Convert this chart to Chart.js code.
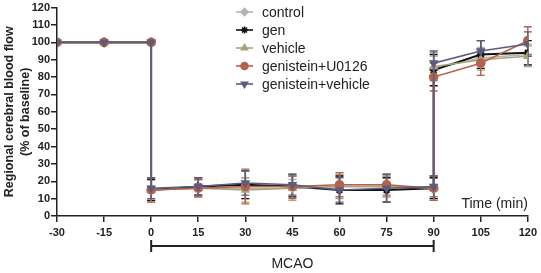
<!DOCTYPE html>
<html>
<head>
<meta charset="utf-8">
<script src="https://cdn.jsdelivr.net/npm/chart.js@4.4.0/dist/chart.umd.min.js"></script>
<style>
  html, body { margin: 0; padding: 0; background: #fff; }
</style>
</head>
<body>
<canvas id="cbfChart" width="541" height="273"></canvas>
<script>
/* ================================
   Data
================================ */
// 0 and 90 appear twice: the drop at MCAO onset and the rise at reperfusion
const times = [-30, -15, 0, 0, 15, 30, 45, 60, 75, 90, 90, 105, 120];

const controlVals   = [100, 100, 100, 15, 16, 16, 16, 17, 17, 16, 85, 91, 93];
const genVals       = [100, 100, 100, 15, 17, 18, 17, 15, 15, 16, 84, 93, 94];
const vehicleVals   = [100, 100, 100, 15, 16, 15, 16, 17, 17, 16, 86, 90, 92];
const genU0126Vals  = [100, 100, 100, 15, 16, 17, 17, 18, 18, 16, 80, 88, 101];
const genVehVals    = [100, 100, 100, 16, 17, 19, 18, 15, 16, 17, 88, 95, 99];

const controlErr    = [0, 0, 0, 6, 5, 6, 5, 6, 6, 6, 7, 6, 6];
const genErr        = [0, 0, 0, 6, 5, 8, 6, 8, 7, 6, 9, 8, 7];
const vehicleErr    = [0, 0, 0, 7, 5, 7, 7, 7, 6, 7, 8, 6, 6];
const genU0126Err   = [0, 0, 0, 7, 5, 10, 7, 7, 6, 7, 8, 7, 8];
const genVehErr     = [0, 0, 0, 6, 5, 7, 6, 7, 8, 6, 7, 6, 7];

const seriesNames = ["control", "gen", "vehicle", "genistein+U0126", "genistein+vehicle"];
const xTicks = [-30, -15, 0, 15, 30, 45, 60, 75, 90, 105, 120];
const yTicks = [0, 10, 20, 30, 40, 50, 60, 70, 80, 90, 100, 110, 120];
const mcaoSpan = [0, 90];

/* ================================
   Helpers
================================ */
const FONT = "'Liberation Sans', Arial, sans-serif";
const NARROW = "'Liberation Sans Narrow', 'Arial Narrow', 'Liberation Sans', sans-serif";
const INK = "#222";

function toPoints(vals) {
  return vals.map((v, i) => ({ x: times[i], y: v }));
}

function makeSet(i, vals, errs, color, style, extra = {}) {
  return {
    label: seriesNames[i],
    data: toPoints(vals),
    errors: errs,
    borderColor: color,
    backgroundColor: color,
    pointBackgroundColor: color,
    pointBorderColor: color,
    borderWidth: 1.6,
    pointStyle: style,
    pointRadius: 4,
    pointHoverRadius: 4,
    tension: 0,
    ...extra
  };
}

/* ================================
   Plugins
================================ */
// vertical error bars with caps, drawn through the scales
const errorBars = {
  id: "errorBars",
  beforeDatasetsDraw(chart) {
    const { ctx, scales: { x, y } } = chart;
    chart.data.datasets.forEach((ds) => {
      ctx.save();
      ctx.strokeStyle = ds.borderColor;
      ctx.lineWidth = 1.4;
      ds.data.forEach((p, j) => {
        const e = ds.errors[j];
        if (!e) return;
        const px = x.getPixelForValue(p.x);
        const top = y.getPixelForValue(p.y + e);
        const bot = y.getPixelForValue(p.y - e);
        ctx.beginPath();
        ctx.moveTo(px, top); ctx.lineTo(px, bot);
        ctx.moveTo(px - 4, top); ctx.lineTo(px + 4, top);
        ctx.moveTo(px - 4, bot); ctx.lineTo(px + 4, bot);
        ctx.stroke();
      });
      ctx.restore();
    });
  }
};

// MCAO bracket under the axis, plus "Time (min)" and the legend
const extras = {
  id: "extras",
  afterDraw(chart) {
    const { ctx, chartArea, scales: { x, y } } = chart;
    ctx.save();

    // bracket
    const x0 = x.getPixelForValue(mcaoSpan[0]);
    const x1 = x.getPixelForValue(mcaoSpan[1]);
    const by = chartArea.bottom + 30;
    ctx.strokeStyle = INK;
    ctx.lineWidth = 2;
    ctx.beginPath();
    ctx.moveTo(x0, by); ctx.lineTo(x1, by);
    ctx.moveTo(x0, by - 6); ctx.lineTo(x0, by + 6);
    ctx.moveTo(x1, by - 6); ctx.lineTo(x1, by + 6);
    ctx.stroke();

    // time label inside the plot
    ctx.fillStyle = INK;
    ctx.font = `14px ${FONT}`;
    ctx.textAlign = "right";
    ctx.textBaseline = "middle";
    ctx.fillText("Time (min)", chartArea.right, y.getPixelForValue(7));

    // legend
    ctx.textAlign = "left";
    chart.data.datasets.forEach((ds, i) => {
      const ly = 12 + i * 18;
      ctx.strokeStyle = ds.borderColor;
      ctx.lineWidth = 1.6;
      ctx.beginPath();
      ctx.moveTo(236, ly); ctx.lineTo(253, ly);
      ctx.stroke();
      ctx.fillStyle = ds.borderColor;
      Chart.helpers.drawPoint(ctx, {
        pointStyle: ds.pointStyle,
        radius: 3.5,
        rotation: ds.pointRotation || 0,
        borderWidth: ds.pointStyle === "star" ? 2 : 1
      }, 244.5, ly);
      ctx.fillStyle = INK;
      ctx.fillText(ds.label, 262, ly + 1);
    });
    ctx.restore();
  }
};

/* ================================
   Render Chart
================================ */
function renderChart() {
  const ctx = document.getElementById("cbfChart");

  const datasets = [
    makeSet(0, controlVals, controlErr, "#b3b3b3", "rectRot", { order: 4 }),
    makeSet(1, genVals, genErr, "#111111", "star", { order: 3, borderWidth: 2, pointBorderWidth: 2 }),
    makeSet(2, vehicleVals, vehicleErr, "#a9a27a", "triangle", { order: 2 }),
    makeSet(3, genU0126Vals, genU0126Err, "#b5624b", "circle", { order: 1 }),
    makeSet(4, genVehVals, genVehErr, "#5d5c7e", "triangle", { order: 0, pointRotation: 180 })
  ];

  new Chart(ctx, {
    type: "line",
    data: { datasets },
    options: {
      responsive: false,
      animation: false,
      layout: { padding: { top: 2, right: 12, left: 0, bottom: 0 } },
      plugins: {
        legend: { display: false },
        tooltip: { enabled: false }
      },
      scales: {
        x: {
          type: "linear",
          min: -30,
          max: 120,
          afterBuildTicks: (s) => { s.ticks = xTicks.map(v => ({ value: v })); },
          ticks: { color: INK, font: { family: FONT, size: 11, weight: "bold" }, padding: 4 },
          grid: { drawOnChartArea: false, drawTicks: true, tickLength: 6, color: INK, lineWidth: 1.5 },
          border: { color: INK, width: 1.5 },
          title: {
            display: true,
            text: "MCAO",
            color: INK,
            font: { family: FONT, size: 14 },
            padding: { top: 13, bottom: 0 }
          }
        },
        y: {
          min: 0,
          max: 120,
          afterBuildTicks: (s) => { s.ticks = yTicks.map(v => ({ value: v })); },
          afterFit: (s) => { s.width = 57; },
          ticks: { color: INK, font: { family: FONT, size: 11, weight: "bold" }, padding: 1 },
          grid: { drawOnChartArea: false, drawTicks: true, tickLength: 6, color: INK, lineWidth: 1.5 },
          border: { color: INK, width: 1.5 },
          title: {
            display: true,
            text: ["Regional cerebral blood flow", "(% of baseline)"],
            color: INK,
            font: { family: NARROW, size: 12.5, weight: "bold", lineHeight: 1.28 },
            padding: { top: 2, bottom: 0 }
          }
        }
      }
    },
    plugins: [errorBars, extras]
  });
}

document.addEventListener("DOMContentLoaded", renderChart);
</script>
</body>
</html>
